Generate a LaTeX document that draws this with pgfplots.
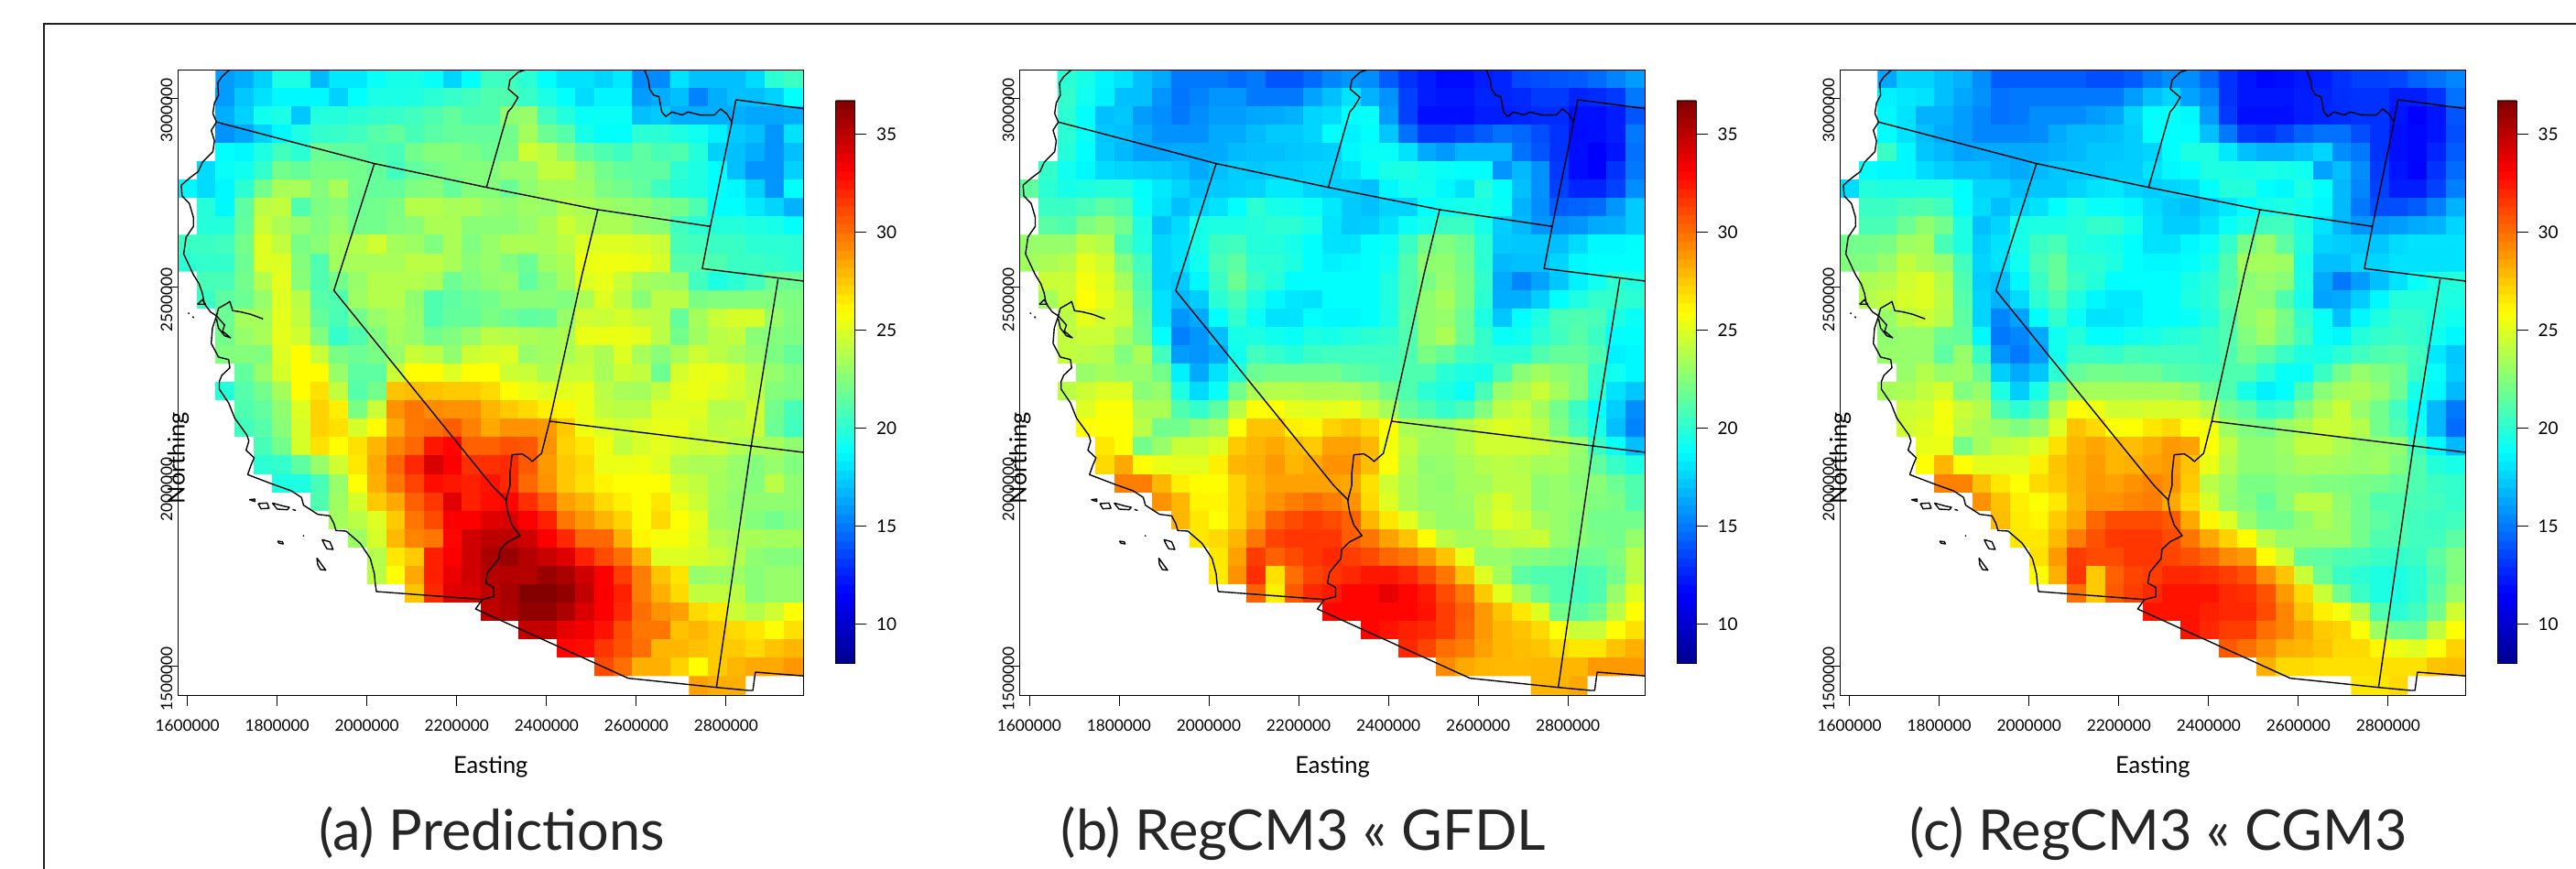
\documentclass[border=0pt]{standalone}
\usepackage{pgfplots}
\usepackage{pgfplotstable}
\usepackage{fontspec}
\setmainfont{Lato}
\pgfplotsset{compat=1.18}
\pgfplotsset{
 /pgfplots/colormap={rtim}{rgb255(0)=(255,255,255) rgb255(799)=(255,255,255) rgb255(800)=(0,0,143) rgb255(1160)=(0,0,255) rgb255(1878)=(0,255,255) rgb255(2595)=(255,255,0) rgb255(3311)=(255,0,0) rgb255(3670)=(128,0,0)}
}
\newcommand\cellcol{\the\numexpr\coordindex-33*((\coordindex-16)/33)\relax}
\newcommand\cellrow{\the\numexpr(\coordindex-16)/33\relax}
\pgfplotstableread[row sep=crcr]{
z\\
0\\0\\16\\16.5\\17.5\\19.5\\19.5\\16.8\\18.2\\18.2\\19\\19.4\\19.4\\19\\17.6\\18.8\\20.5\\20.5\\20\\18.8\\18\\18\\17.6\\18.2\\15.5\\15.5\\18\\17\\17\\17\\17.8\\20\\20.5\\
0\\0\\16\\17.2\\18\\18.6\\18.6\\18.6\\17.5\\18.8\\19.5\\19.5\\19.6\\20\\20.3\\20.6\\21\\21\\20.3\\19.5\\18.8\\17.8\\18.5\\18.5\\16\\16.5\\17\\15.3\\16.5\\17\\17\\17.5\\18.8\\
0\\0\\16.5\\17.5\\19.2\\19.5\\17.2\\19.7\\19.8\\20\\20.2\\20.3\\20.6\\21\\21.5\\21\\21\\22.8\\23\\20.6\\19.7\\19\\19\\19\\17\\17.3\\16.5\\16.5\\16.5\\16.5\\16.3\\16.3\\16.5\\
0\\0\\15.7\\16.3\\17.5\\18.6\\19.6\\20.2\\20.3\\20.6\\21.2\\21.5\\20.8\\21.3\\21.6\\21.6\\21.6\\22\\23.4\\21.8\\21.2\\19.4\\18.8\\18.8\\20\\20\\19.6\\19.2\\18.4\\17.3\\17\\15.8\\18\\
0\\0\\18.8\\18.6\\19.6\\20.6\\20\\21.8\\21.5\\21.4\\21\\20.8\\22\\22.5\\22.5\\22.2\\21.8\\22.2\\24.5\\24\\22.8\\21.5\\21\\20.5\\21.4\\20.8\\21\\19.8\\17.5\\17\\16.5\\15.8\\17\\
0\\17.8\\19\\19.2\\20.2\\22\\21.6\\22.2\\22.2\\22\\21.6\\20.6\\21.5\\22\\22.3\\22.5\\22.5\\23\\23\\24.2\\24.2\\23\\22\\21.5\\21.4\\21.4\\20\\19.6\\18.8\\17\\15.8\\15.8\\17.5\\
18.6\\17.8\\18.6\\20\\22\\23.5\\23.5\\22.5\\23.5\\22\\21.6\\21.6\\22.3\\22.5\\21.6\\22.5\\22.5\\21.8\\22.8\\23.4\\23.4\\23.2\\22.3\\22\\21.5\\20.5\\19.8\\19.6\\18.8\\18.6\\17.5\\15.8\\18.8\\
0\\19.8\\18.6\\21.4\\24\\24.2\\21\\22.3\\22.6\\21.8\\22\\22.3\\23.8\\23.8\\23.5\\23.6\\23\\22.8\\23.2\\23\\23.8\\23.6\\23.2\\23\\22.8\\22.3\\22\\21\\18.8\\18.8\\18.2\\17.6\\16.6\\
0\\19.8\\19.8\\21.5\\24.4\\23.6\\23\\22.4\\23\\22\\22\\22.4\\22.6\\23.6\\23.6\\22.6\\22.6\\22.6\\23\\23.6\\24.5\\23.8\\23.6\\23.6\\22.8\\22.6\\20.6\\20\\19.8\\19.8\\19.6\\19.4\\18.8\\
20.4\\20.4\\20.6\\22\\25\\24.2\\22.2\\22.6\\23.4\\23.8\\24.6\\23.4\\23.2\\22.4\\23.6\\22.4\\23\\23.6\\23.6\\23.5\\24\\25\\25\\25\\24.8\\24.4\\20.8\\20.6\\20.4\\20.4\\20\\20\\20\\
20\\20.2\\20.2\\21.8\\25\\25\\22.5\\21\\23.3\\23.5\\23.5\\23.5\\24\\24\\23.5\\22.6\\23\\22.4\\21.8\\23.2\\23.6\\25.4\\25.5\\25.5\\25.4\\24.8\\21.2\\21.2\\21\\20.4\\20.4\\20.2\\20\\
0\\20.8\\20.8\\22\\23.8\\25.2\\22.6\\21\\22\\23\\23.8\\23.8\\23.8\\23.5\\21.8\\22.4\\22.8\\23\\21.5\\22.5\\23.4\\25\\25.3\\24.4\\23.4\\23.2\\23\\20.6\\19.6\\20\\20.6\\21.8\\21.8\\
0\\20.4\\21.4\\21.8\\23\\25\\24\\21.2\\21\\23.2\\23.8\\23.8\\22.8\\21\\21.4\\21.8\\22\\22.6\\22.6\\22.6\\22.4\\23.6\\25\\24\\22.6\\24\\24\\22.2\\22.4\\22.4\\22.5\\22.4\\22.3\\
0\\0\\21.8\\23.4\\23.4\\25.2\\24.2\\21.6\\20.8\\22\\23\\23.5\\23\\21\\21.6\\21.6\\22.2\\21.8\\21.4\\21.6\\23\\24.6\\24.4\\24.8\\24.2\\24\\21.6\\23.4\\24.4\\24.8\\24.8\\23\\22.4\\
0\\0\\22\\23\\23.5\\25.2\\24.6\\22.4\\20.2\\21\\22.4\\23.4\\23\\22\\22.4\\23\\24\\23.8\\23.6\\23.4\\23.6\\25.4\\25.4\\25.4\\25.2\\24\\22\\23.2\\24\\24.2\\22.6\\22.5\\22.3\\
0\\0\\22.4\\22.5\\22.4\\25\\26\\24.4\\22.2\\21.8\\22.2\\23\\24.4\\24\\22.8\\24.5\\24.8\\25\\23\\23.3\\23.6\\24.2\\23.6\\25\\23.5\\22.6\\23.5\\24.5\\24\\23.5\\23\\22.3\\21.6\\
0\\0\\0\\21.5\\23\\24.8\\26\\26\\23\\21.4\\21.4\\24.4\\26\\26\\25\\25.9\\25.9\\24.5\\24.4\\23.6\\24.4\\24.4\\23.5\\24.5\\24.2\\21.8\\24.7\\25.3\\25.4\\24.8\\23.8\\23\\22.4\\
0\\0\\19.8\\21.2\\22\\23.4\\26\\26.8\\24.2\\21.2\\22\\27.6\\27.8\\27.6\\27.4\\27.4\\27\\26\\25.4\\25\\25.2\\25.4\\24\\23.5\\23.4\\24.2\\25.2\\25.4\\25\\24.6\\24\\22.5\\22.3\\
0\\0\\0\\21\\21.5\\22.8\\25\\27.2\\26.4\\22.2\\24.4\\29\\29.8\\29.2\\29\\29\\28\\27.4\\27\\26.4\\26.2\\25.4\\24.2\\24\\24\\25\\25\\25\\23.8\\23.8\\24.6\\22\\20.8\\
0\\0\\0\\20.6\\21.2\\22.6\\24.8\\27.2\\26.8\\24.8\\26\\28.4\\29.7\\30\\30.5\\29.5\\28.4\\29\\29\\28.8\\27.4\\25.5\\25\\24.6\\25\\25.3\\25.3\\24.7\\24\\24.2\\24.4\\21.8\\20.6\\
0\\0\\0\\0\\20.8\\22\\24.8\\26.8\\26\\26.8\\28\\29.4\\30.2\\32.5\\33\\30.4\\30.4\\30.8\\30.7\\29\\27.2\\26.6\\25.5\\24.2\\24.8\\25.2\\24.8\\24.4\\24.6\\23.8\\23.6\\23.4\\22.8\\
0\\0\\0\\0\\20\\20.2\\21.4\\23\\24.6\\26.6\\28.4\\30.3\\32\\34.2\\33.2\\31.8\\31.8\\32\\30.6\\28.8\\27.5\\27\\25.4\\25.4\\25.5\\25\\23.8\\23.6\\23.6\\23\\22.5\\23\\22.4\\
0\\0\\0\\0\\0\\19.6\\19.6\\20.8\\23\\25.9\\28.2\\29.8\\31.2\\32.8\\32.5\\32.2\\32.6\\32\\30.2\\29\\27.5\\26.8\\26.2\\25.9\\25.9\\25.9\\24.6\\24.2\\23.4\\23\\22.5\\24\\22.8\\
0\\0\\0\\0\\0\\0\\0\\21\\23.2\\24.8\\27.4\\28.4\\30.4\\31.6\\34\\32.2\\32.8\\33\\31.8\\30.5\\28.6\\28\\27\\26.4\\25.9\\26.6\\25.3\\24.5\\23.3\\22.8\\22.8\\22.8\\22.8\\
0\\0\\0\\0\\0\\0\\0\\0\\23.4\\24\\25\\27.4\\29.8\\31\\33.2\\33.2\\34\\34.2\\33.2\\32.2\\29.8\\28.9\\28\\27.2\\25.9\\27\\25.9\\25.2\\23.2\\23\\22.5\\22\\22.5\\
0\\0\\0\\0\\0\\0\\0\\0\\0\\23.2\\24.8\\27.9\\29.4\\29.8\\33\\34.4\\35\\35\\34.5\\33.2\\32\\30.2\\30.2\\28.2\\26.2\\25.7\\25.7\\25\\23.8\\23.5\\23.5\\23.3\\23.4\\
0\\0\\0\\0\\0\\0\\0\\0\\0\\0\\23.8\\26.6\\27.4\\32.2\\33.2\\34.5\\35.5\\36\\35.2\\34.6\\34\\32.2\\31\\30\\28\\25\\25\\24.8\\24.4\\23.8\\22.8\\22.5\\22.5\\
0\\0\\0\\0\\0\\0\\0\\0\\0\\0\\24\\25.9\\28.4\\32.2\\33.6\\34.4\\35.2\\35.2\\35.2\\36\\35.5\\34.4\\33.2\\31.4\\29.6\\27.6\\26.7\\23\\23.2\\23.2\\22.6\\23\\23\\
0\\0\\0\\0\\0\\0\\0\\0\\0\\0\\0\\0\\27.6\\32\\34\\34.2\\35\\35.6\\36.6\\36.6\\36.2\\34.8\\33.2\\32.2\\29.6\\28.2\\27\\24.2\\24.2\\24\\22.6\\23\\23\\
0\\0\\0\\0\\0\\0\\0\\0\\0\\0\\0\\0\\0\\0\\0\\0\\35\\35.4\\36.2\\36.2\\35.4\\34.2\\33.2\\32\\30\\29\\28.6\\27\\26.6\\24.5\\23.8\\24.6\\25.9\\
0\\0\\0\\0\\0\\0\\0\\0\\0\\0\\0\\0\\0\\0\\0\\0\\0\\0\\34.8\\34.8\\33.8\\33.4\\32.6\\31\\29.8\\29.8\\27.7\\28\\27.4\\27\\26.6\\25.9\\26.8\\
0\\0\\0\\0\\0\\0\\0\\0\\0\\0\\0\\0\\0\\0\\0\\0\\0\\0\\0\\0\\33\\32.8\\31.6\\30.8\\30\\28\\28\\27.7\\27.4\\27.4\\27\\27.6\\28\\
0\\0\\0\\0\\0\\0\\0\\0\\0\\0\\0\\0\\0\\0\\0\\0\\0\\0\\0\\0\\0\\0\\31\\30\\28.2\\28.2\\27.2\\26\\27.4\\28\\28.4\\28.4\\28.9\\
0\\0\\0\\0\\0\\0\\0\\0\\0\\0\\0\\0\\0\\0\\0\\0\\0\\0\\0\\0\\0\\0\\0\\0\\0\\0\\0\\28.6\\28.2\\28.2\\0\\0\\0\\
}\tabA
\pgfplotstableread[row sep=crcr]{
z\\
0\\0\\20\\19.4\\18.5\\18\\17\\16.4\\15\\15\\15\\14.6\\15\\14\\14\\14.6\\15.4\\15.8\\15.6\\14.2\\13\\12.4\\11.9\\11.9\\12.4\\12.6\\13.6\\13.8\\14\\14.2\\14.6\\15.3\\16\\
0\\0\\20.2\\19.2\\18.4\\17\\17\\15.8\\14.9\\15.3\\15.8\\15.8\\15\\15\\15\\16.2\\17\\18\\16.6\\15.7\\13.4\\12.4\\12.2\\12.2\\12.6\\12.6\\12.8\\13.2\\13.2\\12.6\\12.8\\13.2\\15\\
0\\0\\20\\18.8\\17\\17.2\\16\\15.6\\15\\15.6\\16\\16\\16.3\\16.4\\16.6\\17.6\\17.8\\18.8\\19\\16\\13.4\\12\\12\\12\\12.4\\12.4\\12.6\\12.8\\12.8\\12\\12\\12.4\\14\\
0\\0\\20\\19\\17.2\\17\\16.4\\15.7\\15.7\\15.7\\16.4\\16.4\\16.9\\17.3\\17.3\\17.6\\18.8\\18.4\\18.8\\17.2\\14.8\\13.2\\13.2\\13.6\\14.2\\14.8\\14.5\\13.8\\13\\11.9\\12\\12.4\\15\\
0\\0\\19.8\\18.8\\17.3\\16.8\\16.2\\16.2\\16.4\\16.4\\16.4\\16.9\\17\\17\\17.2\\17.3\\17.4\\18.6\\19\\19\\18\\16.4\\15.9\\16.7\\16.7\\16.7\\14.8\\14\\13\\12\\11.6\\12.2\\14.8\\
0\\20.2\\19.2\\18.6\\17.8\\17.6\\17.4\\17.3\\17\\16.4\\17\\17.4\\17.2\\17.4\\17.4\\17.6\\17.6\\18\\18.8\\19.4\\19.6\\19.2\\19\\18.8\\18.8\\15.8\\16.8\\15.7\\13.2\\11.9\\11.6\\13\\15\\
21.5\\20\\19.4\\19.6\\19.8\\19.8\\18.8\\18.2\\17.6\\17\\17.3\\17.4\\17.6\\18.2\\18.2\\17.6\\17.4\\17.4\\17\\18.6\\19.3\\19.3\\18.6\\18\\19.8\\18.8\\17\\15.7\\13.4\\12.6\\12.6\\13.4\\15.6\\
0\\20.4\\20.4\\20.8\\21.4\\21\\19\\18\\17\\17.6\\18\\18.8\\20\\19.4\\19.3\\19\\18.2\\17.3\\17\\17.6\\17.6\\18.8\\19.2\\19.4\\19.4\\19\\16.6\\15.6\\14.2\\14.4\\14.6\\15.8\\17.3\\
0\\21.3\\21\\22.3\\22.8\\22\\19.6\\17\\17.8\\19.4\\19.6\\19.6\\19.8\\20\\20\\19.5\\18\\17.3\\17.4\\18\\19\\19.4\\20.4\\20.4\\19.4\\17.4\\16.8\\15.8\\15.6\\15.8\\16.4\\16.5\\17.3\\
23\\23\\23\\24.2\\23.8\\21\\19.7\\17.6\\18\\19.4\\20.4\\20.6\\19.8\\19.7\\19.4\\18.8\\18\\18\\18.8\\19\\20.4\\22\\22.4\\21.8\\20\\17.3\\17.2\\17.2\\17\\17.8\\18.6\\18.6\\18.8\\
23.3\\23.6\\23.8\\25.2\\24.6\\22.4\\20.6\\17.6\\18\\19.2\\20.8\\21.4\\20\\20\\19.6\\18.8\\18.4\\18.6\\18.8\\19.2\\21\\22.8\\22.8\\22\\20\\16.8\\17\\17\\17.6\\18.6\\18.8\\18.8\\18.8\\
0\\24.4\\24.4\\25.6\\25\\23.4\\21\\17.6\\17.3\\18.6\\20.4\\21.8\\20.4\\19.8\\18.8\\18.8\\18.8\\18.8\\18.8\\19.6\\21\\22.2\\23\\22.2\\20.2\\16.4\\15.4\\16.2\\17.2\\18.4\\19.2\\20\\19.6\\
0\\23.4\\24.4\\25.9\\25.2\\24.2\\21.4\\18\\16.8\\17.4\\20\\20.8\\19.6\\18.6\\18.1\\18\\18.8\\18.8\\18.8\\19.6\\21\\22.8\\23.4\\22.2\\20\\16.5\\16.5\\17.4\\18.8\\19.6\\20.2\\20.2\\20\\
0\\0\\24\\25.2\\24.6\\24.4\\21.8\\18\\15.8\\16.4\\18.8\\20.2\\19\\18\\18\\18.8\\18.6\\18.6\\18.8\\19.5\\21.2\\22.8\\23\\21.8\\19.6\\17.2\\18.8\\19.6\\20.8\\21\\20.8\\19.6\\19\\
0\\0\\24.2\\24.4\\24.4\\23.4\\22\\18.8\\15.2\\15.8\\17\\19.4\\19.6\\19.2\\19\\19.6\\19.4\\19.7\\20\\20.2\\21\\22.8\\23.6\\21.8\\20.2\\19\\19.2\\20\\20.6\\21.2\\20.4\\18.8\\18.8\\
0\\0\\24.2\\24\\23.8\\22.4\\23.6\\20.6\\16\\15.8\\16.4\\19.2\\20.6\\20.2\\19.8\\20.4\\20.6\\20.6\\20.6\\20.6\\21\\22.2\\21.6\\20.6\\20.2\\20\\20\\21\\21.6\\21.6\\21\\18.4\\18.6\\
0\\0\\0\\23\\23.4\\23\\23\\22\\18.4\\16.4\\18\\19.8\\21.8\\22\\22\\22\\22\\21.4\\21.2\\20.8\\21\\21\\20\\19.6\\19.4\\20.8\\22.6\\23.3\\22.8\\22.4\\20.2\\19.2\\18.6\\
0\\0\\24\\24.5\\25\\25\\22.6\\23\\19.6\\17.8\\19\\22\\23.6\\23.8\\23.8\\23.6\\23.6\\23.6\\23\\22\\21\\20\\19.6\\19\\20.8\\23\\23.6\\24.4\\23.4\\22.4\\20\\18\\17.2\\
0\\0\\0\\25\\25.8\\25.8\\23.6\\23.6\\21\\20.2\\21.4\\24\\25.9\\25.9\\25.2\\25\\25.2\\25.4\\24.4\\23.4\\21.6\\21\\20.2\\20.8\\22.4\\24\\24.4\\23.4\\22\\20.4\\18.8\\17.4\\15.6\\
0\\0\\0\\25.9\\25.9\\25.9\\24\\22\\22\\22.8\\23.4\\25.9\\27.6\\27.6\\26.4\\26.2\\27.2\\27.6\\27\\26\\23.6\\23.4\\23.2\\23.8\\24.6\\25\\24.8\\24\\22.4\\20.8\\19.4\\17\\15.3\\
0\\0\\0\\0\\26.6\\25.9\\22\\23\\24.4\\24.4\\25\\27.4\\28\\28.4\\27.8\\27.4\\28.6\\28.6\\28\\25.6\\24.2\\23.2\\23.2\\23.8\\24.6\\24.6\\24.6\\24.4\\23.8\\23\\20.4\\19\\17\\
0\\0\\0\\0\\27\\28.4\\25.9\\25.4\\25.2\\25.2\\26.4\\28\\28.2\\28.8\\28\\28.4\\29\\29\\27.8\\25.9\\23.8\\22.8\\23\\23.4\\23.8\\24\\23.8\\23.4\\23.5\\22.8\\21.5\\20.4\\19.6\\
0\\0\\0\\0\\0\\29.6\\29.6\\28\\26.4\\26\\26\\27.2\\28\\28.6\\28.6\\28.6\\28.6\\28.4\\26.8\\24.6\\23.6\\23\\22.8\\23.4\\23.4\\24\\24\\22.8\\23\\22.6\\22.6\\21.8\\21\\
0\\0\\0\\0\\0\\0\\0\\29\\28\\26.2\\26.2\\27.2\\28.2\\29\\29.6\\30\\29.6\\29\\27\\25\\23.6\\23\\23\\23.2\\24\\24.8\\24\\22.8\\23\\22.8\\22.4\\22.2\\21\\
0\\0\\0\\0\\0\\0\\0\\0\\28\\26.6\\25.9\\27.2\\28.6\\30.4\\31\\31.4\\31\\30.4\\28\\26.6\\25.2\\23.6\\23\\23\\24.2\\25\\24.6\\23.4\\23\\22.6\\22\\22\\22\\
0\\0\\0\\0\\0\\0\\0\\0\\0\\26.6\\27\\28\\29.8\\31.2\\31.6\\31.6\\31.6\\30.5\\29.8\\28.6\\27.6\\25.9\\24\\23.4\\23.4\\24\\24.2\\24.4\\23\\22.6\\22.2\\22\\23\\
0\\0\\0\\0\\0\\0\\0\\0\\0\\0\\26.6\\28.6\\31.4\\30.4\\31\\31.6\\32\\31.4\\31\\30.2\\29.8\\28.9\\27.6\\25.4\\23\\23\\22.6\\22.4\\22.2\\21.8\\21.8\\22.4\\24\\
0\\0\\0\\0\\0\\0\\0\\0\\0\\0\\26.5\\29\\31.8\\26.8\\30\\31.2\\31.6\\32\\32.5\\32.5\\32\\31\\29.8\\27.6\\25\\23.4\\21.4\\21\\21\\20.8\\21\\22\\24\\
0\\0\\0\\0\\0\\0\\0\\0\\0\\0\\0\\0\\30.4\\26.4\\30.6\\32\\32.4\\33\\33\\33.8\\33\\32.4\\31\\29.8\\27.4\\25.2\\23.4\\22\\21\\20.6\\21\\23\\25\\
0\\0\\0\\0\\0\\0\\0\\0\\0\\0\\0\\0\\0\\0\\0\\0\\33\\33\\33\\33\\33\\32.6\\31.4\\30.4\\28.8\\27.6\\26.6\\25\\22\\21.4\\22\\24\\25.9\\
0\\0\\0\\0\\0\\0\\0\\0\\0\\0\\0\\0\\0\\0\\0\\0\\0\\0\\33\\32.6\\32.2\\32\\31.4\\30.2\\28.8\\28\\27.6\\27\\25.9\\24.4\\24.4\\25.9\\26.8\\
0\\0\\0\\0\\0\\0\\0\\0\\0\\0\\0\\0\\0\\0\\0\\0\\0\\0\\0\\0\\32\\31.2\\30\\29.6\\28.6\\28\\27.8\\27.6\\27\\26.6\\26.6\\27.6\\28.2\\
0\\0\\0\\0\\0\\0\\0\\0\\0\\0\\0\\0\\0\\0\\0\\0\\0\\0\\0\\0\\0\\0\\29.2\\28.4\\28\\27.9\\27.9\\28\\28\\28\\28.8\\28.8\\28.8\\
0\\0\\0\\0\\0\\0\\0\\0\\0\\0\\0\\0\\0\\0\\0\\0\\0\\0\\0\\0\\0\\0\\0\\0\\0\\0\\0\\28\\28\\28.4\\0\\0\\0\\
}\tabB
\pgfplotstableread[row sep=crcr]{
z\\
0\\0\\16.3\\17.6\\17.6\\17\\16.6\\15.6\\14.2\\14.2\\14.2\\14.2\\14.2\\13.8\\13.8\\14.2\\15\\15.6\\15.6\\14.5\\13\\12.2\\11.8\\12\\12.3\\12.4\\13\\13.4\\13.4\\13.6\\14.4\\14.8\\15.4\\
0\\0\\18.4\\18.2\\18\\17\\16.3\\15.7\\14.8\\15\\15\\15\\15\\15\\15\\16\\17\\17.6\\16.2\\15.4\\13\\12.2\\12.2\\12.2\\12.4\\12.6\\12.9\\13\\13\\12.4\\12.4\\13\\14.8\\
0\\0\\18.6\\18\\16.6\\16.6\\16\\15.4\\14.8\\15\\15.6\\15.6\\15.6\\16\\16.3\\17.6\\18.8\\19\\18.6\\16\\13.2\\12\\12\\12\\12.4\\12.6\\12.8\\13\\13\\12.2\\11.6\\12.2\\14\\
0\\0\\18.8\\18\\17\\16.4\\16\\15.4\\15.4\\15.4\\15.6\\16.4\\16.8\\16.8\\17\\17.4\\18.8\\18.8\\18.8\\17\\15\\13.2\\13\\13.6\\14.4\\14.8\\14.8\\13.8\\13\\12\\11.8\\12.2\\13.8\\
0\\0\\20.4\\18.6\\17.2\\16.8\\16.2\\16.4\\16.4\\16.4\\16.4\\16.6\\16.8\\17.2\\17.2\\17.4\\17.6\\18.8\\19.6\\19.6\\18.2\\17\\16.6\\16.6\\17\\17.6\\15.6\\15\\13\\12\\11.8\\12.6\\14.2\\
0\\18.8\\18.6\\18.6\\17.8\\17.4\\17\\17\\16.6\\16.4\\16.8\\17.2\\17.2\\17.2\\17.4\\17.4\\18\\18.6\\18.8\\19.6\\19.6\\19.4\\19.6\\19.4\\19.2\\16.2\\17\\15.6\\13.2\\12.2\\11.7\\13\\14.6\\
17.8\\19.8\\19.6\\19.6\\19.6\\19.6\\18.8\\17.6\\17.6\\17\\17.2\\17.2\\17.6\\18\\18.2\\17.6\\17.4\\17.6\\17.8\\18.8\\19.8\\19.8\\18.8\\18.6\\19.6\\18.8\\16.8\\15.4\\13.4\\12.4\\12.4\\13.4\\15.2\\
0\\20.4\\20.4\\20.8\\21\\20.6\\18.8\\17.8\\17\\17.6\\18\\18.8\\19.6\\19\\19\\18.6\\17.8\\17.3\\17\\17.6\\18.2\\18.8\\19.4\\19.6\\19.2\\18.6\\16.8\\15\\13.8\\13.8\\14.2\\15.2\\16.6\\
0\\20.8\\20.8\\21.8\\22.8\\22\\19.6\\17\\17.6\\19.4\\19.6\\19.6\\19.8\\20.2\\20.2\\19.4\\18\\17.4\\17.4\\18\\19\\19.6\\20.6\\20.6\\19.6\\18\\16.8\\15.8\\15.8\\16\\16.4\\16.6\\17.6\\
22\\22\\22.2\\23.2\\23.4\\20.8\\19.6\\17.4\\18\\19.4\\20.4\\20.8\\19.8\\19.6\\19.4\\18.8\\18\\18\\18.6\\19\\20.2\\22.2\\23\\21.4\\19.8\\17.6\\17.4\\17.2\\17.2\\17.8\\18\\18\\18\\
22.4\\22.4\\23\\24.2\\23.6\\23\\20.6\\17.6\\18\\19.2\\20.8\\21.6\\20\\20\\19.6\\18.8\\18.6\\18.6\\18.8\\19.4\\21\\23.4\\23.4\\23.2\\19.4\\17\\17\\17.6\\17.6\\18\\18\\18\\18\\
0\\23.6\\23.8\\24.6\\25\\23.8\\21\\17.4\\17\\18.6\\20.4\\21.6\\20.4\\19.8\\18.8\\18.8\\18.8\\18.8\\19.4\\20\\21\\22.6\\23\\22.6\\19.6\\16.4\\15\\16\\17\\18\\19\\19.6\\19.8\\
0\\23.8\\24.2\\24.8\\25\\24\\21.2\\17.6\\16.6\\17.8\\20\\21\\19.6\\18.6\\18.2\\18.2\\18.8\\18.8\\19.6\\20\\21.4\\22.8\\22.6\\21\\19.4\\16.2\\16.4\\17.4\\18.6\\19.8\\19.8\\19.8\\19.6\\
0\\0\\23\\24\\24.5\\23.8\\21.4\\17.6\\15.4\\16.2\\18.8\\20.2\\19\\18\\18\\18.3\\18.8\\18.8\\19\\19.7\\21\\22.8\\23.4\\22.2\\20.2\\19\\17\\18.6\\19.6\\20.2\\20.2\\19.6\\19.2\\
0\\0\\22.8\\23\\23\\21.8\\21.6\\18.6\\15\\15.4\\16.4\\19.2\\19.8\\18.8\\18.8\\19.2\\19.4\\19.8\\20\\20.4\\21\\22.4\\23.2\\22\\20.6\\19\\18.6\\19.8\\20.2\\20.4\\20.2\\19.2\\18.6\\
0\\0\\23\\23\\23\\21.4\\23\\20.4\\15.8\\15\\16\\19.2\\20.4\\20.4\\20.2\\20.8\\20.6\\20.6\\20.6\\20.4\\21\\22\\21.4\\20.4\\19.6\\19.4\\20\\20.6\\21\\21.2\\20.6\\18.2\\17.2\\
0\\0\\0\\23\\23.8\\23\\23.2\\21.8\\17.4\\16.4\\17.2\\20\\21.6\\22\\22\\21.8\\21.8\\21.2\\21\\20.8\\21\\21\\20\\19\\19\\20.4\\22\\23\\22.4\\22\\20.4\\19\\17.4\\
0\\0\\23.4\\23.6\\24.2\\24.8\\22.4\\23\\19.6\\17.4\\19.4\\22\\23.4\\23.4\\23.4\\23.4\\23.4\\23.4\\23\\21.8\\21\\19.4\\18.4\\18.8\\20.8\\22.6\\23.4\\23.6\\23\\21.8\\19.4\\18.6\\16.8\\
0\\0\\0\\24.4\\24.6\\25.6\\24.4\\23.8\\21\\20\\21\\24\\25.9\\25.5\\24.6\\24.6\\24.8\\24.8\\24.8\\23.8\\22\\21.4\\20.2\\20.6\\22.4\\23.6\\24.4\\23\\22\\20.6\\18.8\\16.8\\15\\
0\\0\\0\\24.6\\25\\25.6\\24\\23.5\\23\\22.4\\23\\25\\27.6\\27\\25.9\\25.9\\26.6\\27\\26\\25.6\\23.2\\22.4\\22\\23\\23.6\\24.4\\24.4\\23.8\\22\\21\\19.2\\16.8\\14.6\\
0\\0\\0\\0\\25.3\\25.4\\22\\23.4\\24.2\\24.4\\25\\26.8\\28\\28.5\\28\\27.8\\28.2\\28.8\\28.6\\25.9\\24.2\\22.8\\22.8\\23.2\\24.2\\24.2\\23.6\\23\\23\\22.8\\20.4\\18.6\\16.8\\
0\\0\\0\\0\\25.9\\28\\25.9\\25.2\\25.2\\25.2\\26.4\\27.6\\28.2\\28.7\\28\\28.2\\28.6\\28.8\\27.6\\25.4\\23.8\\22.8\\22.8\\23\\23.4\\23.4\\23.2\\23\\23.2\\22.4\\21\\19.8\\19.4\\
0\\0\\0\\0\\0\\29.5\\29.5\\27.7\\26.6\\25.9\\27\\27.4\\28.2\\28.8\\28.6\\29\\29.4\\29\\27.4\\24\\23.2\\22.2\\22.2\\22.6\\22.6\\22.4\\22.4\\22.2\\22\\21.6\\21\\20.4\\20.2\\
0\\0\\0\\0\\0\\0\\0\\29\\27.7\\26.4\\25.9\\26.6\\28\\29\\29\\29.4\\29.6\\28.4\\27\\24.8\\23\\22.4\\21.6\\22.6\\24\\24\\22.8\\22\\21\\21\\20.8\\20.6\\20.2\\
0\\0\\0\\0\\0\\0\\0\\0\\27.8\\26.5\\26.2\\27.4\\28.4\\30.2\\31\\31\\31\\30.6\\28.4\\26.2\\25\\23\\22\\22\\22.8\\23.6\\23\\22\\21.4\\21\\20.6\\20.4\\20.6\\
0\\0\\0\\0\\0\\0\\0\\0\\0\\26.6\\26.6\\27.9\\29.6\\30.8\\31.5\\31.6\\31.6\\31\\29.8\\28.4\\27.2\\26\\24\\23\\23\\23\\23\\22\\21\\21\\20.6\\20.6\\21.4\\
0\\0\\0\\0\\0\\0\\0\\0\\0\\0\\26.8\\28.8\\31.4\\31\\31\\31.6\\31.6\\31.2\\30.8\\30.2\\29.2\\28.8\\26\\24.5\\21.6\\21.4\\21\\20.8\\20.4\\20.2\\20.4\\21.4\\22.4\\
0\\0\\0\\0\\0\\0\\0\\0\\0\\0\\26\\28.2\\31.6\\27.4\\30.4\\31.2\\31.4\\32\\32\\31.8\\31.4\\30.8\\29\\27.6\\24.4\\21.8\\20.4\\20\\19.6\\19.6\\20\\21\\22.4\\
0\\0\\0\\0\\0\\0\\0\\0\\0\\0\\0\\0\\30\\27.4\\30.6\\31.4\\32\\32.6\\32.6\\32.6\\32\\31.8\\30.8\\28.8\\27\\24.4\\22\\20.4\\19.6\\19.6\\20\\21.4\\23\\
0\\0\\0\\0\\0\\0\\0\\0\\0\\0\\0\\0\\0\\0\\0\\0\\32.6\\32.6\\32.6\\32.2\\32\\32\\31\\29.4\\27.6\\26.4\\25.6\\24\\21\\20\\20.6\\22\\24.6\\
0\\0\\0\\0\\0\\0\\0\\0\\0\\0\\0\\0\\0\\0\\0\\0\\0\\0\\32.6\\32\\31.4\\31.4\\30\\29.4\\28.4\\27.4\\27.2\\25.8\\23.2\\22\\21.8\\24.2\\25.9\\
0\\0\\0\\0\\0\\0\\0\\0\\0\\0\\0\\0\\0\\0\\0\\0\\0\\0\\0\\0\\30.6\\30\\29.2\\28.2\\28\\27.6\\27\\27\\26.2\\25.4\\25\\25.9\\27.2\\
0\\0\\0\\0\\0\\0\\0\\0\\0\\0\\0\\0\\0\\0\\0\\0\\0\\0\\0\\0\\0\\0\\28.2\\27\\27\\26.8\\26.8\\26.8\\26.8\\26.8\\26.8\\27.6\\27.8\\
0\\0\\0\\0\\0\\0\\0\\0\\0\\0\\0\\0\\0\\0\\0\\0\\0\\0\\0\\0\\0\\0\\0\\0\\0\\0\\0\\26.6\\26.6\\27\\0\\0\\0\\
}\tabC
\pgfplotstableread[row sep=crcr]{
x y\\
0 8.224\\1 8.224\\0 8.673\\1 8.673\\0 9.121\\1 9.121\\0 9.569\\1 9.569\\0 10.018\\1 10.018\\0 10.466\\1 10.466\\0 10.915\\1 10.915\\0 11.363\\1 11.363\\
0 11.812\\1 11.812\\0 12.26\\1 12.26\\0 12.708\\1 12.708\\0 13.157\\1 13.157\\0 13.605\\1 13.605\\0 14.054\\1 14.054\\0 14.502\\1 14.502\\0 14.951\\1 14.951\\
0 15.399\\1 15.399\\0 15.848\\1 15.848\\0 16.296\\1 16.296\\0 16.744\\1 16.744\\0 17.193\\1 17.193\\0 17.641\\1 17.641\\0 18.09\\1 18.09\\0 18.538\\1 18.538\\
0 18.987\\1 18.987\\0 19.435\\1 19.435\\0 19.883\\1 19.883\\0 20.332\\1 20.332\\0 20.78\\1 20.78\\0 21.229\\1 21.229\\0 21.677\\1 21.677\\0 22.126\\1 22.126\\
0 22.574\\1 22.574\\0 23.023\\1 23.023\\0 23.471\\1 23.471\\0 23.919\\1 23.919\\0 24.368\\1 24.368\\0 24.816\\1 24.816\\0 25.265\\1 25.265\\0 25.713\\1 25.713\\
0 26.162\\1 26.162\\0 26.61\\1 26.61\\0 27.059\\1 27.059\\0 27.507\\1 27.507\\0 27.955\\1 27.955\\0 28.404\\1 28.404\\0 28.852\\1 28.852\\0 29.301\\1 29.301\\
0 29.749\\1 29.749\\0 30.198\\1 30.198\\0 30.646\\1 30.646\\0 31.095\\1 31.095\\0 31.543\\1 31.543\\0 31.991\\1 31.991\\0 32.44\\1 32.44\\0 32.888\\1 32.888\\
0 33.337\\1 33.337\\0 33.785\\1 33.785\\0 34.234\\1 34.234\\0 34.682\\1 34.682\\0 35.13\\1 35.13\\0 35.579\\1 35.579\\0 36.027\\1 36.027\\0 36.476\\1 36.476\\
}\tabBar
\pgfplotstableread{
a b
138 6
118 30
108 50
110 90
100 115
96 150
105 178
92 205
100 240
96 275
70 310
60 340
38 362
18 385
20 420
38 445
48 490
48 520
30 555
24 610
48 678
62 708
70 738
75 773
90 800
105 813
95 853
92 903
110 948
135 956
138 983
118 1008
112 1028
112 1053
135 1098
150 1148
180 1203
185 1223
178 1253
198 1278
190 1303
182 1333
245 1365
290 1386
315 1408
320 1433
355 1463
385 1468
395 1493
400 1516
425 1518
460 1558
485 1608
495 1658
497 1688
500 1716
762 1742
745 1773
1122 2000
1340 2030
1420 2040
1430 2040
1436 1980
1561 1993
nan nan
58 775
70 760
78 775
58 775
nan nan
105 813
110 788
130 773
138 766
145 796
165 800
190 808
220 823
nan nan
105 813
125 843
120 863
140 885
125 878
110 853
105 823
nan nan
35 803
38 806
nan nan
46 815
49 820
nan nan
186 1415
200 1413
200 1421
186 1415
nan nan
208 1428
230 1426
235 1443
215 1445
208 1428
nan nan
243 1426
270 1436
285 1440
280 1448
255 1446
243 1426
nan nan
293 1447
300 1450
293 1447
nan nan
256 1551
268 1553
270 1560
260 1558
256 1551
nan nan
319 1532
321 1535
nan nan
366 1546
385 1553
393 1578
378 1576
372 1563
366 1546
nan nan
353 1606
365 1628
375 1646
362 1644
355 1628
353 1606
nan nan
870 6
850 15
830 40
826 70
850 97
835 130
825 145
772 392
nan nan
1162 6
1172 40
1175 70
1185 90
1198 95
1205 145
1215 160
1230 145
1255 155
1270 145
1300 155
1335 155
1350 135
1365 150
1378 178
nan nan
1561 135
1388 105
1378 178
1325 520
1305 658
1561 700
nan nan
105 178
495 314
772 392
1047 465
1325 520
nan nan
495 314
395 730
785 1368
822 1418
nan nan
1047 465
1008 678
928 1158
908 1263
885 1290
875 1278
860 1265
835 1268
830 1328
830 1368
820 1418
825 1458
835 1498
855 1533
825 1553
805 1578
803 1608
775 1653
770 1688
790 1703
790 1733
762 1742
nan nan
928 1158
1561 1261
nan nan
1492 693
1425 1246
1340 2030
}\bnd
\pgfplotsset{
 common/.style={
  scale only axis, anchor=south west,
  /pgf/number format/assume math mode=true,
  /pgf/number format/fixed,
  /pgf/number format/1000 sep={},
  tick align=outside, major tick length=5pt,
  tick style={black,line width=0.35pt},
  axis line style={line width=0.35pt,black},
  tick label style={font=\fontsize{6.9}{8}\selectfont,black},
 },
 panel/.style={
  common, width=273pt, height=273.1pt,
  xmin=1579200,xmax=2971800,ymin=1423900,ymax=3074600,
  xtick={1600000,1800000,2000000,2200000,2400000,2600000,2800000},
  ytick={1500000,2000000,2500000,3000000},
  scaled ticks=false,
  xtick pos=bottom, ytick pos=left,
  xticklabel style={yshift=-2.2pt},
  yticklabel style={rotate=90,anchor=center,xshift=-5.5pt},
  xlabel={Easting}, ylabel={Northing},
  every axis x label/.style={at={(axis description cs:0.5,0)},anchor=center,yshift=-31.5pt,font=\fontsize{10.2}{12}\selectfont},
  every axis y label/.style={at={(axis description cs:0,0.5)},anchor=center,rotate=90,xshift=-33pt,font=\fontsize{10.2}{12}\selectfont},
  colormap name=rtim, point meta min=0, point meta max=36.7,
  axis on top,
 },
 cbar/.style={
  common, width=8.5pt, height=245.8pt,
  xmin=0,xmax=1,ymin=8,ymax=36.7,
  xtick=\empty, ytick={10,15,20,25,30,35},
  ytick pos=right, yticklabel pos=right,
  yticklabel style={xshift=0.8pt,font=\fontsize{7.6}{9}\selectfont},
  colormap name=rtim, point meta min=0, point meta max=36.7,
  axis on top,
 },
 cell/.style={matrix plot*, mesh/cols=33, point meta=explicit},
 line/.style={no markers, black, line width=0.55pt, unbounded coords=jump, line join=round},
}
\newcommand\cells[1]{\addplot[cell] table[x index=0, y index=0, x expr={1600300+42200*\cellcol}, y expr={3050325-48550*\cellrow}, meta=z] #1;}
\newcommand\lines{\addplot[line] table[x expr={\thisrow{a}*902+1570018}, y expr={3080161-806*\thisrow{b}}] \bnd;}
\newcommand\barplot{\addplot[matrix plot*, mesh/cols=2, point meta=y] table[x=x,y=y] \tabBar;}
\begin{document}
\begin{tikzpicture}
\path[use as bounding box] (0,0) rectangle (1125.2pt,379.6pt);
\draw[line width=0.8pt,color={rgb,255:red,35;green,31;blue,32}] (19.2pt,0pt) -- (19.2pt,369.2pt) -- (1125.2pt,369.2pt);
\begin{axis}[panel, at={(77.8pt,76pt)}]
\cells{\tabA}
\lines
\end{axis}
\begin{axis}[cbar, at={(365pt,89.8pt)}]
\barplot
\end{axis}
\begin{axis}[panel, at={(445.5pt,76pt)}]
\cells{\tabB}
\lines
\end{axis}
\begin{axis}[cbar, at={(732.4pt,89.8pt)}]
\barplot
\end{axis}
\begin{axis}[panel, at={(803.8pt,76pt)}]
\cells{\tabC}
\lines
\end{axis}
\begin{axis}[cbar, at={(1090.8pt,89.8pt)}]
\barplot
\end{axis}
\node[anchor=base,font=\fontsize{24.5}{28}\selectfont,text=black!85] at (214.8pt,8pt) {(a) Predictions};
\node[anchor=base,font=\fontsize{24.5}{28}\selectfont,text=black!85] at (569.4pt,8pt) {(b) RegCM3 « GFDL};
\node[anchor=base,font=\fontsize{24.5}{28}\selectfont,text=black!85] at (942.8pt,8pt) {(c) RegCM3 « CGM3};
\end{tikzpicture}
\end{document}
